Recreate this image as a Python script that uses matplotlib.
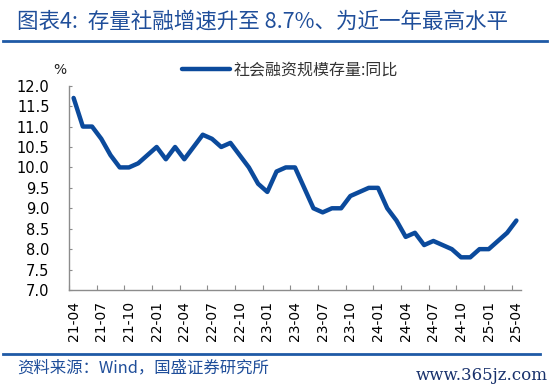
import matplotlib.pyplot as plt
import numpy as np

plt.rcParams['font.family'] = ['Noto Sans CJK SC', 'DejaVu Sans']

# monthly, 21-04 .. 25-04
values = [11.7, 11.0, 11.0, 10.7, 10.3, 10.0, 10.0, 10.1, 10.3,
          10.5, 10.2, 10.5, 10.2, 10.5, 10.8, 10.7, 10.5, 10.6, 10.3, 10.0, 9.6,
          9.4, 9.9, 10.0, 10.0, 9.5, 9.0, 8.9, 9.0, 9.0, 9.3, 9.4, 9.5,
          9.5, 9.0, 8.7, 8.3, 8.4, 8.1, 8.2, 8.1, 8.0, 7.8, 7.8, 8.0,
          8.0, 8.2, 8.4, 8.7]
tick_labels = ["21-04", "21-07", "21-10", "22-01", "22-04", "22-07", "22-10",
               "23-01", "23-04", "23-07", "23-10", "24-01", "24-04", "24-07",
               "24-10", "25-01", "25-04"]
series_name = "社会融资规模存量:同比"

blue = '#0B4A9C'
title_blue = '#1F4E9A'
axis_gray = '#8C8C8C'

fig = plt.figure(figsize=(5.5, 3.88), dpi=100)
ax = fig.add_axes([69 / 550, 1 - 290 / 388, 452 / 550, (290 - 85.7) / 388])

x = np.arange(len(values))
ax.plot(x, values, color=blue, lw=3.2, solid_joinstyle='round',
        solid_capstyle='round', label=series_name)

ax.set_xlim(-0.5, len(values) - 0.5)
ax.set_ylim(7.0, 12.0)
ax.set_yticks(np.arange(7.0, 12.01, 0.5))
ax.set_yticklabels([f"{v:.1f}" for v in np.arange(7.0, 12.01, 0.5)])

# tick marks between categories, labels at category centres
ax.set_xticks(np.arange(-0.5, len(values), 3))
ax.set_xticklabels([])
ax.set_xticks(np.arange(0, len(values), 3), minor=True)
ax.set_xticklabels(tick_labels, minor=True, rotation=90, fontsize=10,
                   family='DejaVu Sans')
ax.tick_params(axis='x', which='minor', length=0, pad=8)
ax.tick_params(axis='x', which='major', direction='in', length=3.5,
               color=axis_gray, width=0.8)
ax.tick_params(axis='y', direction='in', length=2.5, color=axis_gray,
               width=0.8, labelsize=10.5, pad=14)
for lab in ax.get_yticklabels():
    lab.set_family('DejaVu Sans')

for s in ['top', 'right']:
    ax.spines[s].set_visible(False)
for s in ['left', 'bottom']:
    ax.spines[s].set_color(axis_gray)
    ax.spines[s].set_linewidth(1.0)

fig.text(60 / 550, 1 - 70 / 388, "%", fontsize=10, ha='center', va='center',
         family='DejaVu Sans', color='#222222')

leg = ax.legend(loc='upper left', bbox_to_anchor=(176 / 550, 1 - 55 / 388),
                bbox_transform=fig.transFigure, frameon=False, fontsize=11.5,
                handlelength=3.0, handletextpad=0.2, borderaxespad=0)
for t in leg.get_texts():
    t.set_color('#333333')

# header and footer
fig.text(17 / 550, 1 - 22 / 388, "图表4:  存量社融增速升至 8.7%、为近一年最高水平",
         fontsize=15.5, color=title_blue, ha='left', va='center', style='italic')
fig.add_artist(plt.Line2D([3 / 550, 547 / 550], [1 - 41 / 388, 1 - 41 / 388],
                          color='#1F5AA6', lw=2, transform=fig.transFigure))
fig.add_artist(plt.Line2D([3 / 550, 540 / 550], [1 - 354 / 388, 1 - 354 / 388],
                          color='#1F5AA6', lw=2, transform=fig.transFigure))
fig.text(17 / 550, 1 - 368 / 388, "资料来源：Wind，国盛证券研究所", fontsize=11.8,
         color=title_blue, ha='left', va='center', style='italic')
fig.text(548 / 550, 1 - 376 / 388, "www.365jz.com", fontsize=12,
         color='#17306B', ha='right', va='center', family='DejaVu Serif')

fig.savefig("out.png", dpi=100)
